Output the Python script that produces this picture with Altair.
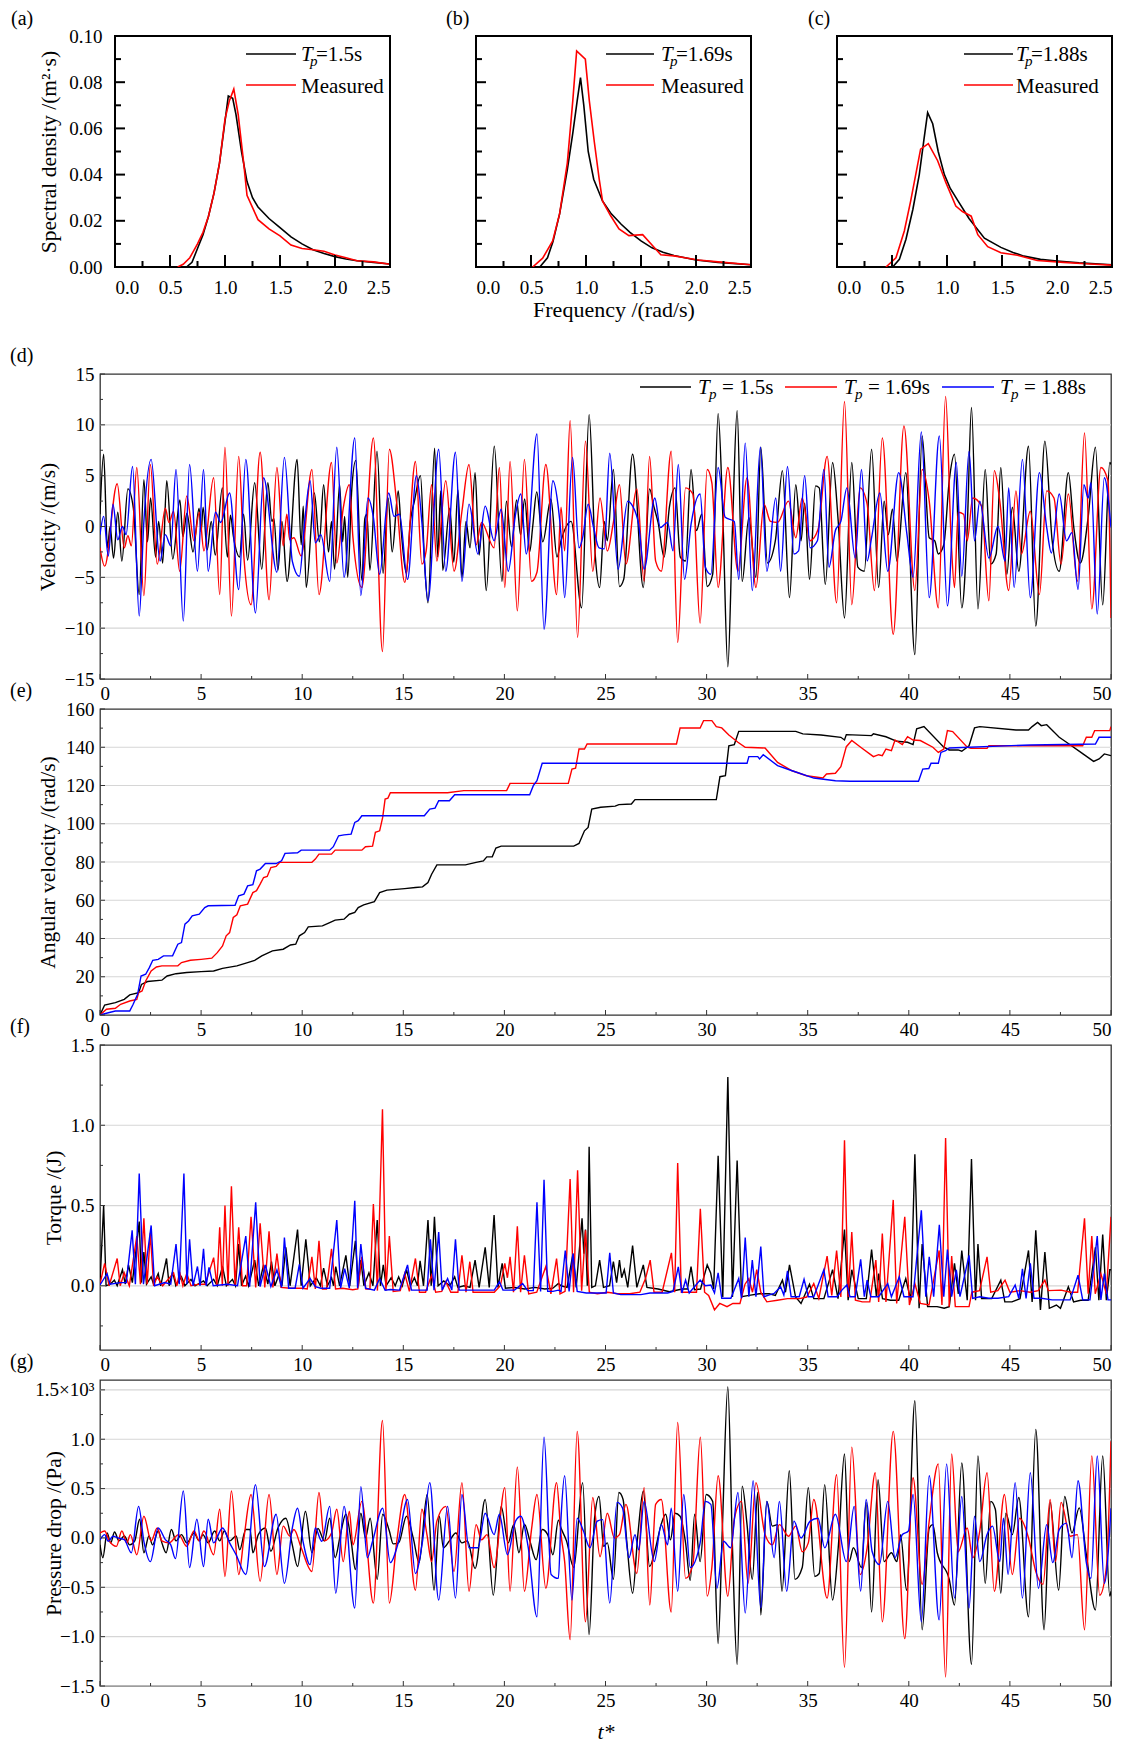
import altair as alt
import pandas as pd

FONT = "Liberation Serif"
C_BLACK = "#000000"
C_RED = "#ff0000"
C_BLUE = "#0000ff"
LABEL_SIZE = 19
TITLE_SIZE = 21.5

# ---------------- tick values ----------------
FREQ_TICKS = [0.0, 0.5, 1.0, 1.5, 2.0, 2.5]
FREQ_MINOR = [0.25, 0.75, 1.25, 1.75, 2.25]
SPEC_TICKS = [0.0, 0.02, 0.04, 0.06, 0.08, 0.10]
SPEC_MINOR = [0.01, 0.03, 0.05, 0.07, 0.09]
T_TICKS = [0, 5, 10, 15, 20, 25, 30, 35, 40, 45, 50]
T_MINOR = [2.5, 7.5, 12.5, 17.5, 22.5, 27.5, 32.5, 37.5, 42.5, 47.5]

VEL_TICKS = [-15, -10, -5, 0, 5, 10, 15]
VEL_MINOR = [-12.5, -7.5, -2.5, 2.5, 7.5, 12.5]
VEL_GRID = [-10, -5, 0, 5, 10]
ANG_TICKS = [0, 20, 40, 60, 80, 100, 120, 140, 160]
ANG_MINOR = [10, 30, 50, 70, 90, 110, 130, 150]
ANG_GRID = [20, 40, 60, 80, 100, 120, 140]
TOR_TICKS = [0.0, 0.5, 1.0, 1.5]
TOR_MINOR = [-0.25, 0.25, 0.75, 1.25]
TOR_GRID = [0.0, 0.5, 1.0]
PRE_TICKS = [-1.5, -1.0, -0.5, 0.0, 0.5, 1.0, 1.5]
PRE_MINOR = [-1.25, -0.75, -0.25, 0.25, 0.75, 1.25]
PRE_GRID = [-1.5, -1.0, -0.5, 0.0, 0.5, 1.0, 1.5]

# ---------------- spectra (frequency, density) ----------------
A_MODEL = [(0.65, 0), (0.7, 0.002), (0.75, 0.008), (0.8, 0.014), (0.85, 0.022), (0.9, 0.032),
           (0.95, 0.045), (1.0, 0.063), (1.03, 0.074), (1.07, 0.073), (1.1, 0.066), (1.15, 0.05),
           (1.2, 0.037), (1.25, 0.03), (1.3, 0.026), (1.4, 0.021), (1.5, 0.017), (1.6, 0.013),
           (1.7, 0.010), (1.8, 0.0075), (1.9, 0.0058), (2.0, 0.0045), (2.1, 0.0035), (2.2, 0.0027),
           (2.35, 0.002), (2.5, 0.0013)]
A_MEAS = [(0.57, 0), (0.62, 0.0012), (0.68, 0.004), (0.75, 0.01), (0.8, 0.015), (0.85, 0.022),
          (0.9, 0.032), (0.95, 0.045), (1.0, 0.064), (1.04, 0.072), (1.08, 0.077), (1.12, 0.066),
          (1.17, 0.045), (1.2, 0.031), (1.3, 0.0205), (1.4, 0.0165), (1.5, 0.0135), (1.6, 0.0095),
          (1.7, 0.008), (1.8, 0.0075), (1.9, 0.0068), (2.0, 0.0052), (2.1, 0.004), (2.2, 0.0027),
          (2.35, 0.0022), (2.5, 0.0012)]
B_MODEL = [(0.58, 0), (0.65, 0.004), (0.7, 0.011), (0.76, 0.023), (0.83, 0.042), (0.88, 0.058),
           (0.92, 0.072), (0.95, 0.082), (0.98, 0.07), (1.02, 0.05), (1.07, 0.038), (1.15, 0.0286),
           (1.23, 0.023), (1.32, 0.0185), (1.4, 0.015), (1.5, 0.0113), (1.6, 0.0083), (1.7, 0.0064),
           (1.8, 0.005), (1.9, 0.004), (2.0, 0.003), (2.2, 0.002), (2.5, 0.001)]
B_MEAS = [(0.515, 0), (0.606, 0.0038), (0.697, 0.0113), (0.76, 0.023), (0.83, 0.045), (0.88, 0.072),
          (0.915, 0.0935), (0.994, 0.090), (1.03, 0.072), (1.076, 0.054), (1.12, 0.038), (1.15, 0.0286),
          (1.22, 0.0225), (1.30, 0.0165), (1.39, 0.0136), (1.515, 0.014), (1.6, 0.0095), (1.68, 0.0053),
          (1.8, 0.0048), (1.9, 0.004), (2.02, 0.003), (2.2, 0.0022), (2.5, 0.001)]
C_MODEL = [(0.506, 0), (0.567, 0.0033), (0.627, 0.012), (0.69, 0.025), (0.748, 0.040), (0.79, 0.055),
           (0.824, 0.0668), (0.87, 0.062), (0.92, 0.050), (0.976, 0.040), (1.03, 0.034), (1.1, 0.0286),
           (1.2, 0.021), (1.34, 0.0125), (1.49, 0.0085), (1.6, 0.0063), (1.7, 0.0047), (1.85, 0.0033),
           (2.0, 0.0026), (2.2, 0.0018), (2.5, 0.001)]
C_MEAS = [(0.445, 0), (0.536, 0.004), (0.612, 0.0156), (0.67, 0.0286), (0.76, 0.051), (0.83, 0.0534),
          (0.915, 0.046), (0.99, 0.0365), (1.08, 0.0264), (1.14, 0.024), (1.22, 0.022), (1.28, 0.014),
          (1.37, 0.0088), (1.49, 0.0062), (1.64, 0.0051), (1.82, 0.0028), (2.06, 0.002), (2.3, 0.0013),
          (2.5, 0.0008)]

# ---------------- (d) velocity ----------------
D_15 = [(0, 1.2), (0.18, 7.1), (0.37, -2.1), (0.5, 0.0), (0.67, -3.1), (0.88, 1.4), (1.08, -3.4), (1.38, 3.7),
        (1.65, 1.8), (1.94, -6.7), (2.17, 4.6), (2.35, -1.5), (2.5, 2.8), (2.75, -3.0), (2.9, 0.5), (3.1, -3.6),
        (3.3, 4.5), (3.6, -3.2), (3.95, 2.6), (4.1, -1.0), (4.3, 1.3), (4.6, -2.5), (4.9, 1.8), (5.0, -0.5),
        (5.1, 1.9), (5.3, -2.3), (5.5, 0.5), (5.7, -2.8), (6.05, 3.8), (6.3, -3.0), (6.45, 1.1), (6.6, -1.0),
        (6.9, -3.0), (7.1, 1.2), (7.3, -3.3), (7.65, 4.3), (8.0, -4.2), (8.3, 4.3), (8.5, 0.5), (8.6, 0.8),
        (8.8, -4.3), (9.0, 0.5), (9.25, -5.4), (9.75, 6.6), (9.95, -1.8), (10.05, 2.0), (10.2, -6.0),
        (10.6, 3.3), (10.85, -1.5), (11.06, 4.1), (11.3, -2.5), (11.45, 0.5), (11.6, -4.2), (11.85, 4.1),
        (12.0, -1.5), (12.1, 1.0), (12.25, -5.0), (12.45, 3.6), (12.65, 6.5), (12.95, -5.3), (13.1, 0.8),
        (13.2, 1.2), (13.35, -4.3), (13.7, 7.4), (14.0, -4.6), (14.25, 2.8), (14.45, -2.5), (14.75, 3.5),
        (14.9, -0.5), (15.15, -4.6), (15.35, 0.5), (15.55, 2.5), (15.85, 5.0), (16.05, -3.5), (16.22, -7.5),
        (16.55, 7.7), (16.7, -3.0), (16.85, 3.5), (16.95, -4.3), (17.3, 1.8), (17.5, -3.5), (17.7, 3.6),
        (17.9, -5.0), (18.1, 0.5), (18.3, -2.1), (18.55, 5.3), (18.75, -2.8), (18.9, 0.3), (19.1, -6.3),
        (19.5, 7.9), (19.88, -5.4), (20.1, 2.5), (20.35, -2.0), (20.6, 2.6), (20.8, -0.8), (21.0, 2.7),
        (21.25, -2.5), (21.4, 0.0), (21.6, 3.4), (21.9, -1.5), (22.3, 2.7), (22.6, -3.0), (22.8, -1.4),
        (23.3, 0.5), (23.82, -8.0), (24.19, 11.0), (24.5, -3.0), (24.71, -6.0), (24.94, 0.5), (25.09, -1.4),
        (25.39, 5.6), (25.69, -5.9), (25.9, -5.2), (26.34, 7.1), (26.87, -6.0), (27.18, 3.7), (27.4, 1.9),
        (27.6, 0.4), (27.9, -3.0), (28.16, 1.9), (28.44, 3.8), (28.7, -3.0), (28.96, -3.4), (29.23, 5.6),
        (29.5, -0.4), (29.76, 1.2), (30.03, -5.9), (30.3, -4.7), (30.57, 11.1), (30.8, 1.2), (31.05, -13.8),
        (31.28, -0.1), (31.51, 11.4), (31.76, -5.4), (32.09, 0.9), (32.44, -5.0), (32.68, 7.8), (33.01, -3.6),
        (33.4, -1.4), (33.75, 5.5), (34.1, -7.0), (34.41, 4.1), (34.67, -1.4), (34.85, 2.3), (35.09, -5.2),
        (35.39, 4.0), (35.57, 3.8), (35.87, -5.7), (36.23, 6.3), (36.51, 0.5), (36.82, -9.0), (37.18, 6.3),
        (37.48, -4.0), (37.8, -4.4), (38.16, 7.6), (38.51, -6.0), (38.78, 2.5), (38.99, -0.8), (39.19, 1.7),
        (39.41, -3.4), (39.85, 5.3), (40.3, -12.6), (40.66, 8.9), (41.01, -1.1), (41.28, -1.4), (41.46, -2.7),
        (41.73, -1.8), (42.0, 4.5), (42.26, 7.1), (42.62, -8.0), (42.89, -0.1), (43.1, 11.7), (43.42, -8.1),
        (43.78, 5.6), (44.05, -3.7), (44.32, -2.7), (44.55, 5.8), (44.85, -4.7), (45.12, 1.9), (45.44, -4.4),
        (45.92, 7.9), (46.28, -9.8), (46.73, 8.4), (47.09, -1.4), (47.44, -4.4), (47.89, 5.3), (48.16, -0.1),
        (48.48, -3.6), (48.87, 0.9), (49.23, 7.8), (49.59, -7.7), (49.94, 6.3), (50, 6.1)]
D_169 = [(0, -2.1), (0.23, -3.9), (0.85, 4.2), (1.2, -2.1), (1.38, -0.9), (1.55, -1.9), (1.82, 5.8), (2.17, -6.8),
         (2.49, 6.1), (2.83, -3.7), (3.23, 1.8), (3.41, 0.4), (3.64, 1.5), (3.94, -4.4), (4.29, 3.0), (4.65, -1.4),
         (4.91, 1.4), (5.14, -2.4), (5.62, 4.8), (5.92, -6.7), (6.18, 7.8), (6.5, -8.8), (6.86, 6.9), (7.12, -3.1),
         (7.47, -7.7), (7.92, 7.3), (8.36, -7.2), (8.75, 5.8), (9.06, -1.9), (9.24, 1.2), (9.38, -1.3), (9.59, -1.1),
         (9.95, -2.9), (10.48, 5.6), (10.83, -6.7), (11.45, 6.3), (11.71, -3.6), (12.03, 1.8), (12.33, 4.1),
         (12.51, -1.1), (12.95, -6.0), (13.52, 8.7), (13.97, -12.3), (14.31, 7.6), (14.68, 2.2), (15.07, -5.5),
         (15.6, 6.4), (15.92, -3.7), (16.13, -2.4), (16.4, 4.1), (16.66, -3.4), (17.1, 4.5), (17.51, -4.4),
         (17.9, 1.5), (18.25, 6.1), (18.6, -1.8), (18.87, 0.4), (19.49, -2.1), (19.75, 5.8), (20.02, -6.0),
         (20.28, 6.4), (20.64, -8.3), (20.99, 6.6), (21.34, -5.4), (21.61, -4.5), (22.05, 6.1), (22.58, -6.7),
         (22.8, 1.9), (22.98, -2.4), (23.25, 10.4), (23.62, -10.9), (24.01, 8.4), (24.37, -4.4), (24.73, 2.8),
         (25.09, -2.4), (25.39, 0.4), (25.69, 4.1), (26.01, -3.7), (26.55, 3.7), (26.91, -5.4), (27.18, 6.9),
         (27.48, -3.4), (27.76, -4.4), (28.25, 7.4), (28.57, -11.4), (28.96, 3.8), (29.32, 3.2), (29.68, -9.5),
         (30.03, 5.6), (30.26, 4.3), (30.57, -6.0), (31.05, 5.8), (31.55, -4.4), (32.0, 4.8), (32.44, -6.0),
         (32.84, 2.2), (33.16, 0.5), (33.51, 0.4), (34.05, 2.5), (34.41, -1.1), (34.73, 2.8), (35.12, -1.4),
         (35.51, -0.3), (35.96, 6.9), (36.43, -7.5), (36.82, 12.3), (37.18, -7.7), (37.59, 3.8), (37.94, 2.2),
         (38.3, -6.3), (38.69, 8.7), (39.23, -10.6), (39.76, 9.9), (40.3, -6.3), (40.66, 5.6), (41.01, 2.5),
         (41.46, -8.0), (41.82, 12.8), (42.09, -1.1), (42.26, -6.0), (42.44, 1.4), (42.71, 1.2), (42.89, -1.4),
         (43.16, 2.8), (43.6, 2.0), (43.96, -7.3), (44.23, 5.5), (44.5, 2.5), (44.94, -6.3), (45.3, 3.5),
         (45.57, -2.7), (46.01, 1.5), (46.46, -6.7), (46.82, 3.5), (47.18, 2.8), (47.53, -3.7), (47.89, 3.2),
         (48.34, -5.4), (48.69, 9.2), (49.05, -8.1), (49.5, 5.8), (49.85, 4.5), (50, -9.0)]
D_188 = [(0, -0.8), (0.18, 1.0), (0.41, -2.9), (0.64, 2.2), (0.88, -1.3), (1.11, 0.0), (1.29, -0.8), (1.61, 5.9),
         (1.94, -8.8), (2.17, 0.5), (2.53, 6.6), (2.97, -3.4), (3.23, -0.8), (3.5, -1.9), (3.76, 5.6), (4.12, -9.3),
         (4.43, 6.1), (4.82, -4.4), (5.12, 5.6), (5.35, -4.4), (5.71, 1.4), (5.97, 0.4), (6.41, 3.3), (6.86, -6.2),
         (7.21, 6.6), (7.69, -8.5), (8.09, 4.8), (8.75, -4.5), (9.12, 6.8), (9.51, -3.4), (9.86, -4.9), (10.12, 0.4),
         (10.39, 4.5), (10.65, -1.6), (10.92, -0.8), (11.36, -5.4), (11.71, 7.8), (12.07, -5.0), (12.6, 8.7),
         (12.9, -6.8), (13.25, 2.8), (13.52, 0.9), (13.83, -4.7), (14.28, 3.3), (14.54, 1.0), (14.81, 1.2),
         (15.21, -5.2), (15.65, 5.0), (15.92, 0.4), (16.22, -7.3), (16.75, 7.6), (17.1, -4.4), (17.58, 7.3),
         (17.9, -5.4), (18.25, 2.2), (18.69, -2.7), (19.05, 2.0), (19.49, -1.4), (19.84, 1.7), (20.19, -4.4),
         (20.55, 1.2), (20.81, 3.2), (21.08, -2.7), (21.61, 9.1), (21.96, -10.1), (22.4, 4.5), (22.67, 1.8),
         (22.8, -0.8), (22.98, -7.0), (23.37, 6.8), (23.69, -2.1), (23.87, -1.1), (24.14, 2.2), (24.41, -0.1),
         (24.68, -2.1), (24.94, -2.2), (25.21, 7.2), (25.62, -4.2), (26.1, 2.5), (26.28, 2.2), (26.64, 0.2),
         (26.91, -4.2), (27.44, 2.8), (27.71, -0.1), (28.07, 0.4), (28.34, -2.4), (28.6, 6.1), (28.91, -5.2),
         (29.23, 0.2), (29.68, 3.2), (29.94, -4.0), (30.21, -4.7), (30.57, 5.8), (30.92, 0.9), (31.37, 0.5),
         (31.59, -5.2), (31.91, 8.2), (32.26, -6.3), (32.66, 7.8), (32.98, -4.4), (33.42, 2.8), (33.66, -4.4),
         (34.0, 5.9), (34.32, -2.7), (34.55, -2.4), (34.85, 5.0), (35.12, -2.1), (35.48, -1.4), (35.8, 5.6),
         (36.05, -4.0), (36.37, -0.4), (36.64, 0.5), (36.94, 3.8), (37.35, -3.1), (37.66, 5.6), (37.94, -3.4),
         (38.16, -1.1), (38.57, 3.3), (38.96, -4.4), (39.5, 5.3), (39.91, -0.8), (40.21, -5.0), (40.62, 9.3),
         (41.01, -7.0), (41.51, 8.9), (41.91, -7.8), (42.35, 6.3), (42.62, -4.9), (42.98, 7.4), (43.25, -1.4),
         (43.51, 2.5), (43.96, -3.1), (44.41, 0.0), (44.76, -3.4), (44.94, 3.8), (45.21, -6.0), (45.62, 6.6),
         (46.01, -7.0), (46.46, 5.3), (46.82, -0.1), (47.05, -2.6), (47.44, 3.2), (47.8, -1.4), (48.07, -0.6),
         (48.37, -6.2), (48.66, 4.1), (48.87, 2.8), (49.01, 4.3), (49.32, -8.6), (49.67, 4.8), (50, -0.1)]

# ---------------- (e) angular velocity ----------------
E_15 = [(0, 0), (0.23, 5.2), (0.76, 6.5), (1.2, 8.2), (1.47, 10.5), (1.91, 11.7), (2.05, 16), (2.35, 17.5),
        (3.06, 18.2), (3.32, 20.4), (3.76, 21.6), (4.29, 22.2), (5.0, 22.7), (5.62, 23.0), (6.06, 24.4),
        (6.77, 25.7), (7.3, 27.4), (7.65, 28.6), (8.0, 30.9), (8.53, 33.5), (9.06, 34.4), (9.42, 36.6),
        (9.68, 37), (9.86, 41.4), (10.12, 43.1), (10.3, 46.1), (11.0, 46.6), (11.36, 48.3), (11.63, 49.6),
        (12.07, 50.1), (12.33, 52.7), (12.6, 53.6), (12.77, 56.2), (13.04, 57.6), (13.57, 59.3), (13.83, 64.0),
        (14.19, 65.3), (15.07, 66.1), (15.6, 66.7), (15.95, 67), (16.22, 69.3), (16.4, 73.6), (16.66, 78.5),
        (18.07, 78.5), (18.6, 79.8), (18.96, 80.6), (19.13, 82.7), (19.4, 82.7), (19.58, 87.3), (19.84, 88.3),
        (23.43, 88.3), (23.69, 89.7), (23.96, 96.3), (24.14, 98.1), (24.32, 107.7), (24.76, 108.6),
        (25.48, 109.2), (25.66, 110), (26.28, 110.3), (26.46, 112.6), (30.48, 112.6), (30.66, 124.6),
        (30.93, 125.1), (31.1, 140.8), (31.37, 141.4), (31.59, 148.3), (34.41, 148.3), (34.76, 147),
        (35.66, 146.4), (36.64, 145.2), (36.82, 143.8), (36.91, 146.6), (38.16, 146.1), (38.25, 147),
        (38.87, 145.5), (39.41, 143.1), (39.94, 142.6), (40.21, 141.4), (40.39, 149.6), (40.75, 150.8),
        (41.73, 140), (42.0, 138.6), (42.44, 138.6), (42.62, 137.9), (42.98, 140.8), (43.25, 150.1),
        (43.51, 150.8), (45.3, 149), (45.92, 149), (46.1, 150.8), (46.37, 153), (46.55, 151.3), (46.82, 151.8),
        (47.44, 145.2), (47.8, 142.6), (48.51, 137.3), (49.14, 132.6), (49.41, 133.9), (49.67, 136.5),
        (50, 135.6)]
E_169 = [(0, 0), (0.32, 3), (0.76, 3.5), (1.02, 5.6), (1.47, 7.3), (1.82, 8.2), (1.91, 11.7), (2.08, 12.6),
         (2.26, 17.8), (2.53, 23), (2.79, 25.1), (3.06, 25.7), (3.85, 25.7), (4.03, 27.4), (4.47, 28.6),
         (5.0, 29.1), (5.53, 29.7), (5.8, 32.6), (6.06, 36.1), (6.24, 41.4), (6.41, 43.1), (6.59, 51),
         (6.77, 52.4), (6.94, 57.1), (7.3, 58), (7.56, 64), (7.74, 65), (7.92, 68.4), (8.09, 71.9), (8.27, 72.4),
         (8.45, 77.1), (8.71, 77.7), (8.89, 79.8), (10.48, 79.8), (10.65, 81.5), (10.83, 84.1), (11.45, 84.1),
         (11.63, 86.2), (12.95, 86.2), (13.13, 88), (13.48, 88.3), (13.62, 95.5), (13.83, 96.3), (13.98, 103.3),
         (14.1, 112.9), (14.24, 113.4), (14.36, 116.2), (17.19, 116.2), (17.99, 117.3), (20.11, 117.3),
         (20.28, 121.1), (23.16, 121.1), (23.34, 128.6), (23.52, 129), (23.69, 139.1), (23.96, 139.1),
         (24.09, 141.7), (28.51, 141.7), (28.69, 150.1), (29.68, 150.1), (29.85, 153.9), (30.26, 153.9),
         (30.48, 150.8), (30.75, 150.1), (31.1, 146.4), (31.55, 142.6), (31.91, 140), (32.89, 139.6),
         (33.51, 132.1), (34.23, 127.7), (34.94, 125.1), (35.75, 123.9), (35.93, 126), (36.37, 126.4),
         (36.64, 129.8), (36.91, 140.3), (37.18, 143.5), (37.62, 140), (38.25, 135.1), (38.51, 136.1),
         (38.69, 135.6), (38.87, 139.1), (39.14, 138.2), (39.32, 143.8), (39.68, 141.4), (39.94, 145.5),
         (40.21, 143.8), (40.57, 143.5), (41.19, 140), (41.46, 137.3), (41.73, 139.1), (41.91, 148.7),
         (42.17, 148.2), (42.89, 140), (43.07, 139.4), (43.87, 139.4), (43.96, 140.8), (48.6, 140.8),
         (48.78, 145.2), (49.05, 145.2), (49.19, 148.7), (49.94, 148.7), (50, 150.8)]
E_188 = [(0, 0), (0.41, 1.2), (0.76, 2.1), (1.47, 2.1), (1.64, 5.6), (1.86, 10.8), (2.03, 20.4), (2.26, 21.3),
         (2.44, 24.8), (2.61, 28.6), (2.88, 29.1), (3.14, 30.9), (3.59, 30.9), (3.85, 37), (4.03, 37.9),
         (4.2, 47.5), (4.38, 49.2), (4.56, 51.8), (4.91, 52.7), (5.18, 56.2), (5.35, 57.1), (6.68, 57.4),
         (6.86, 62.3), (7.12, 63.2), (7.3, 67.5), (7.56, 68.1), (7.74, 75.4), (7.92, 76.3), (8.18, 79.2),
         (8.71, 79.2), (8.98, 80.6), (9.15, 84.5), (9.77, 84.8), (9.95, 86.2), (11.36, 86.2), (11.54, 88),
         (11.8, 93.7), (12.07, 94.2), (12.42, 94.6), (12.6, 100.7), (12.77, 101.6), (12.95, 104.2),
         (16.04, 104.2), (16.31, 107.7), (16.57, 108.2), (16.75, 112), (17.28, 112), (17.54, 115.2),
         (21.25, 115.2), (21.43, 119.9), (21.61, 122.5), (21.87, 131.6), (32.0, 131.6), (32.09, 135.1),
         (32.53, 135.1), (32.62, 133.9), (32.8, 136.1), (33.51, 130.4), (34.23, 127.7), (35.3, 123.9),
         (36.37, 122.5), (37.09, 122.2), (40.48, 122.2), (40.69, 128.6), (40.99, 128.9), (41.1, 131.6),
         (41.46, 131.6), (41.59, 137.3), (41.82, 138.2), (42.0, 139.6), (46.01, 141.2), (49.23, 141.7),
         (49.41, 145.2), (50, 145.2)]

# ---------------- (f) torque ----------------
F_15 = [(0, 0.02), (0.18, 0.50), (0.3, 0.0), (0.5, 0.01), (0.71, 0.035), (0.85, 0.0), (1.11, 0.10), (1.25, 0.01),
        (1.41, 0.13), (1.6, 0.02), (1.94, 0.40), (2.05, 0.02), (2.17, 0.21), (2.3, 0.01), (2.53, 0.056),
        (2.65, 0.01), (2.88, 0.076), (3.0, 0.0), (3.29, 0.17), (3.42, 0.0), (3.59, 0.087), (3.75, 0.0),
        (4.03, 0.056), (4.2, 0.0), (4.5, 0.04), (4.7, 0.0), (5.12, 0.03), (5.3, 0.0), (5.62, 0.04), (5.8, 0.0),
        (6.06, 0.12), (6.25, 0.0), (6.55, 0.04), (6.7, 0.0), (6.86, 0.26), (7.0, 0.0), (7.2, 0.06), (7.35, 0.0),
        (7.65, 0.16), (7.85, 0.0), (8.09, 0.13), (8.3, 0.01), (8.48, 0.15), (8.65, 0.0), (8.85, 0.07), (9.0, 0.0),
        (9.19, 0.24), (9.4, 0.0), (9.77, 0.35), (9.95, 0.0), (10.18, 0.29), (10.4, 0.0), (10.7, 0.05),
        (10.9, 0.0), (11.06, 0.11), (11.25, 0.0), (11.45, 0.05), (11.55, 0.0), (11.66, 0.12), (11.85, 0.0),
        (12.16, 0.19), (12.35, 0.0), (12.63, 0.28), (12.78, 0.0), (12.9, 0.16), (13.05, 0.0), (13.3, 0.08),
        (13.5, 0.0), (13.71, 0.41), (13.87, 0.0), (14.01, 0.13), (14.15, 0.0), (14.4, 0.05), (14.6, 0.0),
        (14.77, 0.056), (14.95, 0.0), (15.16, 0.10), (15.35, 0.0), (15.55, 0.05), (15.7, 0.0), (15.83, 0.155),
        (16.0, 0.0), (16.22, 0.41), (16.38, 0.0), (16.54, 0.43), (16.72, 0.0), (17.0, 0.03), (17.3, 0.0),
        (17.54, 0.056), (17.7, -0.01), (18.0, 0.0), (18.3, -0.01), (18.55, 0.16), (18.75, -0.01), (19.05, 0.24),
        (19.25, -0.01), (19.49, 0.44), (19.68, -0.01), (19.89, 0.14), (20.05, -0.015), (20.5, -0.01),
        (21.0, -0.02), (21.5, -0.01), (22.0, -0.02), (22.4, -0.015), (22.67, 0.015), (22.8, 0.0), (23.1, -0.01),
        (23.39, 0.2), (23.55, -0.01), (23.84, 0.42), (23.93, 0.2), (24.01, 0.35), (24.1, 0.0), (24.19, 0.866),
        (24.32, -0.01), (24.5, 0.0), (24.71, 0.16), (24.9, -0.01), (25.2, 0.0), (25.39, 0.15), (25.55, 0.02),
        (25.69, 0.16), (25.8, 0.05), (25.93, 0.10), (26.1, -0.01), (26.34, 0.25), (26.55, -0.01), (26.87, 0.13),
        (27.05, -0.01), (27.6, -0.02), (28.16, -0.037), (28.8, -0.02), (29.05, -0.02), (29.23, 0.12),
        (29.4, -0.025), (29.7, -0.02), (30.03, 0.13), (30.2, 0.08), (30.35, -0.02), (30.57, 0.81), (30.8, -0.07),
        (31.05, 1.30), (31.28, -0.07), (31.51, 0.78), (31.73, -0.068), (32.1, -0.06), (32.6, -0.05),
        (33.1, -0.05), (33.4, -0.06), (33.75, 0.035), (33.9, -0.04), (34.1, 0.13), (34.4, -0.07), (34.67, -0.11),
        (35.09, 0.01), (35.3, -0.08), (35.8, -0.08), (36.23, 0.10), (36.5, -0.08), (36.82, 0.35), (37.0, -0.09),
        (37.18, 0.10), (37.5, -0.08), (37.9, -0.08), (38.16, 0.225), (38.4, -0.07), (38.51, 0.076),
        (38.7, -0.08), (39.1, -0.09), (39.5, -0.09), (39.85, 0.045), (40.1, -0.09), (40.3, 0.82), (40.51, -0.14),
        (40.66, 0.26), (40.93, -0.13), (41.4, -0.13), (41.75, -0.14), (42.0, -0.13), (42.26, 0.14),
        (42.45, -0.05), (42.62, 0.22), (42.89, -0.09), (43.1, 0.79), (43.3, -0.09), (43.42, 0.26), (43.6, -0.08),
        (44.1, -0.08), (44.55, 0.035), (44.75, -0.10), (45.1, -0.10), (45.5, -0.08), (45.92, 0.22),
        (46.1, -0.10), (46.28, 0.345), (46.51, -0.15), (46.73, 0.21), (46.95, -0.14), (47.3, -0.12),
        (47.5, -0.14), (47.89, -0.006), (48.15, -0.10), (48.5, -0.09), (48.87, -0.09), (49.23, 0.24),
        (49.4, -0.09), (49.59, 0.32), (49.77, -0.09), (49.94, 0.10), (50, 0.10)]
F_169 = [(0, 0.01), (0.23, 0.14), (0.45, 0.0), (0.85, 0.17), (1.0, 0.0), (1.2, 0.08), (1.45, 0.0), (1.82, 0.31),
         (2.0, 0.01), (2.17, 0.42), (2.33, 0.01), (2.49, 0.33), (2.65, 0.0), (2.83, 0.056), (3.1, 0.0),
         (3.64, 0.08), (3.8, 0.0), (3.94, 0.087), (4.1, 0.0), (4.29, 0.076), (4.5, 0.0), (4.9, 0.01), (5.2, 0.01),
         (5.62, 0.175), (5.78, 0.0), (5.92, 0.365), (6.05, 0.0), (6.18, 0.50), (6.33, 0.0), (6.5, 0.62),
         (6.68, 0.0), (6.86, 0.365), (7.05, 0.0), (7.25, 0.0), (7.47, 0.43), (7.7, -0.01), (7.92, 0.39),
         (8.15, -0.01), (8.36, 0.34), (8.55, -0.01), (8.75, 0.20), (8.95, -0.01), (9.4, -0.015), (10.0, -0.015),
         (10.25, -0.02), (10.48, 0.18), (10.65, -0.02), (10.83, 0.28), (11.0, -0.02), (11.2, -0.02),
         (11.45, 0.23), (11.65, -0.02), (12.0, -0.015), (12.5, -0.025), (12.75, -0.02), (12.95, 0.18),
         (13.15, -0.02), (13.35, -0.02), (13.52, 0.51), (13.72, -0.03), (13.97, 1.10), (14.14, -0.03),
         (14.31, 0.31), (14.5, -0.035), (14.85, -0.03), (15.07, 0.076), (15.3, -0.035), (15.6, 0.17),
         (15.8, -0.04), (16.1, -0.04), (16.4, 0.066), (16.6, -0.04), (16.9, -0.035), (17.1, 0.025),
         (17.35, -0.04), (17.7, -0.04), (17.9, 0.19), (18.1, -0.04), (18.29, 0.15), (18.45, -0.04),
         (19.0, -0.04), (19.5, -0.04), (19.8, 0.0), (20.02, 0.14), (20.15, 0.05), (20.28, 0.18), (20.45, -0.04),
         (20.64, 0.37), (20.8, -0.04), (20.99, 0.19), (21.2, -0.05), (21.6, -0.04), (22.05, 0.12), (22.3, -0.05),
         (22.58, 0.17), (22.75, -0.05), (23.0, -0.035), (23.25, 0.665), (23.42, -0.04), (23.62, 0.72),
         (23.82, -0.03), (24.01, 0.345), (24.2, -0.04), (24.6, -0.05), (25.1, -0.04), (25.6, -0.05),
         (26.2, -0.05), (26.7, -0.04), (26.98, 0.045), (27.21, 0.16), (27.4, -0.04), (27.8, -0.04),
         (28.26, 0.205), (28.42, -0.04), (28.57, 0.765), (28.75, -0.04), (29.2, -0.04), (29.5, -0.04),
         (29.69, 0.48), (29.9, -0.04), (30.1, -0.06), (30.39, -0.15), (30.65, -0.11), (31.01, -0.13),
         (31.3, -0.11), (31.65, -0.11), (31.9, 0.01), (32.09, 0.045), (32.27, -0.04), (32.48, 0.10),
         (32.68, -0.04), (32.98, -0.1), (33.5, -0.09), (34.0, -0.08), (34.6, -0.08), (34.95, -0.07),
         (35.3, 0.014), (35.55, -0.08), (35.96, 0.185), (36.19, -0.06), (36.43, 0.22), (36.64, -0.07),
         (36.82, 0.907), (37.0, -0.07), (37.18, 0.335), (37.36, -0.09), (37.7, -0.10), (38.07, -0.10),
         (38.37, 0.16), (38.51, -0.10), (38.69, 0.325), (38.87, -0.10), (39.23, 0.535), (39.4, -0.11),
         (39.8, 0.43), (40.03, -0.12), (40.3, 0.014), (40.57, -0.11), (41.0, -0.12), (41.5, 0.22),
         (41.64, -0.12), (41.82, 0.92), (42.0, -0.13), (42.12, 0.185), (42.3, -0.13), (42.62, -0.13),
         (42.98, -0.13), (43.12, -0.04), (43.5, -0.03), (43.87, 0.18), (44.05, -0.04), (44.4, -0.03),
         (44.76, 0.035), (45.0, -0.04), (45.5, -0.03), (46.0, -0.04), (46.4, -0.03), (46.73, 0.035),
         (46.9, -0.03), (47.53, -0.027), (48.0, -0.04), (48.35, -0.04), (48.69, 0.42), (48.87, -0.05),
         (49.05, 0.31), (49.22, -0.05), (49.5, 0.076), (49.77, -0.05), (50, 0.43)]
F_188 = [(0, 0.005), (0.35, 0.076), (0.5, 0.01), (1.0, 0.02), (1.3, 0.02), (1.59, 0.345), (1.75, 0.01),
         (1.94, 0.70), (2.15, 0.01), (2.53, 0.376), (2.7, 0.0), (3.2, 0.02), (3.5, 0.01), (3.76, 0.26),
         (3.92, 0.01), (4.15, 0.70), (4.3, 0.01), (4.43, 0.29), (4.6, 0.0), (4.82, 0.12), (4.95, 0.0),
         (5.12, 0.23), (5.25, 0.0), (5.39, 0.115), (5.6, 0.0), (6.3, 0.01), (6.8, 0.0), (7.21, 0.31),
         (7.4, -0.005), (7.7, 0.52), (7.92, -0.005), (8.18, 0.13), (8.45, -0.005), (8.75, 0.10), (8.98, -0.01),
         (9.12, 0.30), (9.33, -0.015), (9.65, -0.015), (9.86, 0.134), (10.04, -0.015), (10.39, 0.045),
         (10.65, -0.005), (10.92, -0.015), (11.36, -0.015), (11.71, 0.41), (11.9, -0.015), (12.1, 0.107),
         (12.33, -0.015), (12.6, 0.53), (12.74, -0.015), (12.9, 0.26), (13.13, -0.015), (13.57, -0.027),
         (13.83, 0.045), (14.1, -0.027), (14.36, -0.023), (14.81, -0.027), (15.21, 0.13), (15.4, -0.027),
         (15.83, -0.027), (16.18, -0.027), (16.34, 0.29), (16.52, -0.027), (16.75, 0.335), (16.92, -0.027),
         (17.19, 0.045), (17.4, -0.027), (17.58, 0.29), (17.76, -0.027), (18.1, -0.027), (18.8, -0.027),
         (19.5, -0.027), (19.75, 0.025), (19.93, -0.027), (20.5, -0.027), (20.9, 0.014), (21.15, -0.03),
         (21.43, -0.03), (21.61, 0.52), (21.79, -0.035), (21.96, 0.66), (22.14, -0.035), (22.4, -0.035),
         (22.67, -0.027), (22.8, -0.035), (23.01, 0.22), (23.2, -0.035), (23.39, 0.2), (23.6, -0.035),
         (24.05, -0.045), (24.6, -0.045), (25.03, -0.045), (25.21, 0.205), (25.39, -0.045), (25.75, -0.055),
         (26.3, -0.055), (26.75, -0.055), (27.2, -0.045), (27.65, -0.045), (28.07, -0.045), (28.34, -0.035),
         (28.6, 0.118), (28.78, -0.045), (28.96, 0.035), (29.14, -0.045), (29.68, 0.035), (29.94, 0.0),
         (30.21, 0.005), (30.39, -0.045), (30.57, 0.08), (30.75, -0.078), (31.2, -0.078), (31.59, 0.045),
         (31.73, -0.078), (31.91, 0.30), (32.09, -0.068), (32.26, 0.16), (32.44, -0.068), (32.68, 0.245),
         (32.84, -0.068), (33.07, -0.058), (33.34, -0.048), (33.66, -0.006), (33.82, -0.058), (34.0, 0.093),
         (34.18, -0.068), (34.58, -0.068), (34.82, 0.04), (35.03, -0.068), (35.3, -0.068), (35.8, 0.1),
         (36.01, -0.068), (36.46, -0.068), (36.69, -0.027), (36.94, 0.005), (37.09, -0.068), (37.35, -0.068),
         (37.62, 0.165), (37.8, -0.068), (37.94, 0.035), (38.12, -0.068), (38.51, -0.068), (38.96, 0.014),
         (39.14, -0.068), (39.53, 0.056), (39.76, -0.068), (40.21, -0.068), (40.62, 0.47), (40.84, -0.068),
         (41.01, 0.18), (41.23, -0.068), (41.51, 0.38), (41.73, -0.068), (41.91, 0.225), (42.12, -0.068),
         (42.35, 0.1), (42.53, -0.068), (42.98, 0.19), (43.16, -0.078), (43.51, -0.068), (43.96, -0.078),
         (44.41, -0.078), (44.94, -0.068), (45.26, 0.005), (45.44, -0.078), (45.62, 0.105), (45.8, -0.078),
         (46.01, 0.14), (46.19, -0.078), (46.55, -0.078), (47.09, -0.088), (47.53, -0.088), (47.98, -0.088),
         (48.37, 0.066), (48.6, -0.088), (48.96, -0.088), (49.32, 0.31), (49.5, -0.088), (49.67, 0.076),
         (49.85, -0.088), (50, -0.088)]

# ---------------- (g) pressure drop (x10^3 Pa) ----------------
G_15 = [(0, -0.07), (0.14, -0.2), (0.35, 0.05), (0.53, -0.05), (0.72, 0.06), (0.94, -0.03), (1.2, 0.02),
        (1.47, -0.07), (1.72, -0.03), (1.96, 0.19), (2.17, -0.15), (2.42, 0.02), (2.6, -0.07), (2.88, 0.07),
        (3.06, -0.05), (3.27, -0.15), (3.53, 0.085), (3.76, -0.03), (4.03, 0.034), (4.29, -0.05), (4.65, 0.05),
        (4.91, -0.03), (5.09, 0.034), (5.35, -0.05), (5.67, 0.07), (5.92, -0.03), (6.15, 0.07), (6.41, -0.03),
        (6.73, 0.02), (6.91, -0.12), (7.21, 0.085), (7.42, 0.085), (7.56, -0.15), (7.83, 0.034), (8.18, 0.1),
        (8.45, -0.135), (8.8, 0.1), (9.19, 0.2), (9.51, -0.07), (9.77, -0.29), (10.16, 0.27), (10.48, -0.15),
        (10.78, 0.095), (11.1, -0.03), (11.36, 0.2), (11.63, -0.2), (11.89, 0.034), (12.16, 0.24),
        (12.42, -0.03), (12.63, -0.32), (12.9, 0.25), (13.13, 0.0), (13.36, 0.2), (13.71, -0.42), (13.98, 0.24),
        (14.31, 0.07), (14.5, -0.06), (14.77, -0.05), (15.16, 0.22), (15.49, 0.0), (15.78, -0.25),
        (16.18, 0.44), (16.52, -0.53), (16.78, 0.22), (16.98, -0.1), (17.28, -0.03), (17.6, 0.05),
        (17.9, -0.05), (18.17, -0.03), (18.55, -0.31), (19.05, 0.39), (19.45, -0.58), (19.84, 0.32),
        (20.19, -0.05), (20.46, 0.135), (20.72, -0.15), (20.99, 0.14), (21.26, -0.03), (21.57, -0.22),
        (21.87, 0.085), (22.14, 0.034), (22.4, -0.17), (22.67, 0.18), (22.8, 0.1), (23.07, -0.03),
        (23.43, -0.3), (23.87, 0.56), (24.19, -0.98), (24.46, 0.2), (24.68, 0.42), (24.91, -0.085),
        (25.09, -0.05), (25.39, -0.42), (25.66, 0.46), (25.87, 0.39), (26.05, -0.03), (26.34, -0.56),
        (26.6, 0.034), (26.87, 0.475), (27.18, -0.29), (27.48, -0.1), (27.75, 0.135), (27.98, 0.24),
        (28.21, -0.02), (28.44, 0.25), (28.69, 0.22), (28.96, -0.05), (29.19, -0.43), (29.41, 0.24),
        (29.68, -0.24), (29.98, 0.44), (30.3, 0.37), (30.57, -1.07), (30.78, 0.1), (31.05, 1.53), (31.28, -0.1),
        (31.51, -1.28), (31.76, 0.525), (32.0, 0.135), (32.26, -0.42), (32.53, 0.46), (32.68, -0.78),
        (32.98, 0.37), (33.25, 0.12), (33.51, 0.135), (33.73, -0.54), (34.09, 0.68), (34.37, -0.42),
        (34.73, -0.3), (35.03, 0.51), (35.35, -0.39), (35.57, -0.36), (35.84, 0.54), (36.23, -0.63),
        (36.51, -0.1), (36.82, 0.85), (37.05, -0.24), (37.26, -0.1), (37.66, -0.3), (37.89, 0.36),
        (38.16, -0.75), (38.48, 0.59), (38.78, -0.24), (39.14, -0.15), (39.41, -0.24), (39.59, 0.034),
        (39.89, -0.53), (40.3, 1.39), (40.66, -0.93), (41.01, 0.1), (41.19, 0.135), (41.41, -0.15),
        (42.0, -0.42), (42.26, -0.68), (42.62, 0.76), (43.1, -1.28), (43.42, 0.83), (43.78, -0.46),
        (44.05, 0.37), (44.28, 0.29), (44.55, -0.56), (44.8, 0.25), (45.12, 0.034), (45.44, 0.41),
        (45.92, -0.8), (46.28, 1.1), (46.69, -0.93), (46.99, 0.36), (47.41, -0.53), (47.71, 0.42),
        (48.07, 0.05), (48.43, 0.305), (48.78, -0.17), (49.23, -0.73), (49.59, 0.83), (49.94, -0.59),
        (50, -0.54)]
G_169 = [(0, 0.05), (0.23, 0.07), (0.46, -0.03), (0.81, -0.085), (1.08, 0.07), (1.33, -0.05), (1.5, 0.034),
         (1.82, -0.17), (2.17, 0.22), (2.53, -0.03), (2.83, 0.1), (3.06, -0.03), (3.41, -0.05), (3.89, 0.034),
         (4.29, -0.085), (4.65, 0.07), (4.91, -0.03), (5.14, 0.07), (5.62, -0.17), (5.92, 0.29), (6.18, -0.39),
         (6.5, 0.475), (6.86, -0.37), (7.12, 0.0), (7.47, 0.44), (7.92, -0.44), (8.36, 0.44), (8.75, -0.37),
         (9.06, 0.12), (9.38, 0.02), (9.59, 0.085), (9.95, -0.1), (10.48, -0.34), (10.83, 0.46), (11.1, -0.03),
         (11.45, 0.05), (11.71, 0.29), (12.03, -0.24), (12.33, 0.27), (12.51, -0.07), (12.95, 0.37),
         (13.52, -0.66), (13.97, 1.19), (14.31, -0.66), (14.68, -0.03), (15.07, 0.44), (15.6, -0.53),
         (15.92, 0.29), (16.17, 0.034), (16.4, -0.24), (16.66, 0.17), (17.1, 0.32), (17.51, -0.34), (17.9, 0.56),
         (18.25, -0.54), (18.6, 0.135), (18.87, -0.02), (19.14, 0.034), (19.49, -0.3), (20.02, 0.51),
         (20.28, -0.54), (20.64, 0.72), (20.99, -0.54), (21.34, 0.085), (21.61, 0.44), (22.05, -0.51),
         (22.58, 0.56), (22.8, 0.034), (22.98, -0.24), (23.25, -1.03), (23.6, 1.08), (24.01, -0.85),
         (24.37, 0.41), (24.73, -0.19), (25.09, 0.25), (25.44, 0.0), (25.69, 0.034), (26.01, 0.34),
         (26.55, -0.36), (26.91, 0.51), (27.19, -0.68), (27.48, 0.34), (27.76, 0.39), (28.25, -0.75),
         (28.57, 1.17), (28.96, -0.41), (29.32, -0.27), (29.69, 1.02), (30.03, -0.59), (30.26, -0.3),
         (30.57, 0.63), (31.05, -0.59), (31.37, 0.19), (31.73, 0.37), (32.05, -0.46), (32.44, 0.56),
         (32.89, 0.034), (33.25, -0.07), (33.6, 0.135), (34.05, 0.017), (34.41, 0.12), (34.73, -0.14),
         (35.03, -0.05), (35.3, 0.39), (35.96, -0.61), (36.43, 0.64), (36.82, -1.31), (37.18, 0.92),
         (37.59, -0.37), (37.94, -0.1), (38.34, 0.66), (38.69, -0.85), (39.23, 1.08), (39.8, -1.02),
         (40.21, 0.61), (40.66, -0.47), (41.01, 0.17), (41.46, 0.75), (41.82, -1.41), (42.12, 0.85),
         (42.44, -0.14), (42.89, 0.1), (43.16, -0.2), (43.51, 0.07), (43.87, 0.66), (44.23, -0.54),
         (44.73, 0.44), (45.12, -0.37), (45.48, 0.2), (45.92, 0.0), (46.28, -0.34), (46.64, -0.47),
         (46.99, 0.39), (47.26, -0.24), (47.53, 0.36), (47.98, 0.017), (48.34, 0.034), (48.69, -0.93),
         (49.05, 0.83), (49.44, -0.58), (49.77, -0.3), (50, 0.98)]
G_188 = [(0, -0.02), (0.23, 0.034), (0.41, -0.034), (0.64, 0.017), (0.88, 0.0), (1.2, -0.017), (1.55, -0.15),
         (1.91, 0.32), (2.17, -0.034), (2.49, -0.24), (2.88, 0.1), (3.23, -0.017), (3.5, -0.07), (3.73, -0.21),
         (4.12, 0.475), (4.43, -0.3), (4.79, 0.19), (5.12, -0.29), (5.35, 0.19), (5.62, -0.05), (6.06, 0.1),
         (6.41, -0.05), (6.73, -0.17), (7.21, -0.37), (7.69, 0.54), (8.13, -0.29), (8.71, 0.24), (9.12, -0.46),
         (9.51, 0.1), (9.77, 0.3), (10.04, -0.034), (10.39, -0.27), (10.65, 0.1), (10.97, -0.034), (11.36, 0.32),
         (11.66, -0.56), (12.07, 0.32), (12.6, -0.71), (12.9, 0.52), (13.22, -0.2), (13.48, -0.034),
         (13.98, 0.3), (14.36, -0.25), (14.72, -0.07), (15.21, 0.39), (15.6, -0.36), (15.95, -0.034),
         (16.31, 0.56), (16.75, -0.63), (17.19, 0.32), (17.58, -0.61), (17.9, 0.44), (18.25, -0.1),
         (18.69, -0.1), (19.05, 0.25), (19.49, 0.034), (19.75, 0.24), (20.15, -0.17), (20.55, 0.17),
         (20.81, 0.22), (21.17, -0.085), (21.61, -0.8), (21.96, 1.02), (22.31, -0.37), (22.67, -0.41),
         (22.8, 0.2), (22.98, 0.63), (23.34, -0.63), (23.6, 0.2), (23.91, 0.07), (24.23, -0.1), (24.59, 0.17),
         (24.86, 0.186), (25.21, -0.66), (25.57, 0.36), (25.84, 0.305), (26.16, -0.2), (26.46, 0.034),
         (26.64, -0.12), (26.91, 0.37), (27.41, -0.24), (27.76, 0.135), (28.07, -0.07), (28.25, 0.3),
         (28.57, -0.54), (28.87, 0.44), (29.19, -0.3), (29.68, -0.05), (29.94, 0.37), (30.21, 0.34),
         (30.51, -0.51), (30.84, -0.034), (31.19, -0.1), (31.55, 0.46), (31.91, -0.76), (32.3, 0.58),
         (32.68, -0.71), (32.98, 0.37), (33.34, -0.2), (33.6, 0.37), (33.96, -0.54), (34.32, 0.17), (34.67, 0.0),
         (35.12, 0.17), (35.51, 0.2), (35.84, -0.1), (36.37, 0.24), (36.91, -0.24), (37.3, 0.32), (37.62, -0.54),
         (37.89, 0.39), (38.19, -0.14), (38.55, -0.27), (38.96, 0.37), (39.32, -0.2), (39.68, 0.034),
         (39.98, 0.07), (40.21, 0.44), (40.62, -0.85), (41.01, 0.63), (41.5, -0.83), (41.87, 0.75),
         (42.26, -0.61), (42.62, 0.42), (42.98, -0.71), (43.25, 0.22), (43.51, -0.24), (43.87, 0.034),
         (44.14, 0.12), (44.5, -0.24), (44.68, 0.2), (44.91, -0.37), (45.26, 0.56), (45.62, -0.61), (46.01, 0.66),
         (46.41, -0.51), (46.82, 0.135), (47.12, -0.25), (47.44, 0.085), (47.8, 0.15), (48.07, -0.2),
         (48.37, 0.58), (48.78, -0.25), (49.01, -0.41), (49.32, 0.83), (49.67, -0.46), (50, 0.3)]


def df_of(pairs):
    return pd.DataFrame({"t": [p[0] for p in pairs], "v": [p[1] for p in pairs]})


ONE = pd.DataFrame({"k": [0]})


def txt(s, x, y, size, style="normal", baseline="alphabetic", align="left"):
    return alt.Chart(ONE).mark_text(text=s, font=FONT, fontSize=size, fontStyle=style,
                                    baseline=baseline, align=align, color="black").encode(
        x=alt.value(x), y=alt.value(y))


def seg(x1, x2, y, color, width):
    return alt.Chart(ONE).mark_rule(color=color, strokeWidth=width).encode(
        x=alt.value(x1), x2=alt.value(x2), y=alt.value(y))


def spacer(w):
    return alt.Chart(ONE).mark_point(size=1, opacity=0).properties(
        width=w, height=1, view=alt.ViewBackground(strokeOpacity=0, strokeWidth=0))


# ---------------- spectrum panels ----------------
SW, SH = 275, 231


def spec_panel(model, meas, tp, tag, tag_x, first, middle, lx1, lx2, tx):
    xax = alt.Axis(values=FREQ_TICKS, format=".1f", ticks=False, domain=False, grid=False,
                   labelFontSize=LABEL_SIZE, labelPadding=11, labelFont=FONT, labelColor="black",
                   title=("Frequency /(rad/s)" if middle else None), titleFontSize=22, titleFont=FONT,
                   titleFontWeight="normal", titlePadding=2, titleColor="black")
    yax = alt.Axis(values=SPEC_TICKS, format=".2f", ticks=False, domain=False, grid=False,
                   labels=first, labelFontSize=LABEL_SIZE, labelPadding=13, labelFont=FONT, labelColor="black",
                   title=("Spectral density /(m²·s)" if first else None), titleFontSize=TITLE_SIZE,
                   titleFont=FONT, titleFontWeight="normal", titleColor="black", titleAngle=270,
                   titleX=-66, titleY=SH / 2, titleAlign="center", titleBaseline="middle")
    xe = alt.X("t:Q", scale=alt.Scale(domain=[0, 2.5], nice=False, zero=False), axis=xax)
    ye = alt.Y("v:Q", scale=alt.Scale(domain=[0, 0.1], nice=False, zero=False), axis=yax)
    l_model = alt.Chart(df_of(model)).mark_line(color=C_BLACK, strokeWidth=1.6, clip=True).encode(x=xe, y=ye)
    l_meas = alt.Chart(df_of(meas)).mark_line(color=C_RED, strokeWidth=1.6, clip=True).encode(x=xe, y=ye)
    xt1 = alt.Chart(pd.DataFrame({"t": FREQ_TICKS})).mark_rule(color="black", strokeWidth=2).encode(
        x=xe, y=alt.value(SH), y2=alt.value(SH - 12))
    xt2 = alt.Chart(pd.DataFrame({"t": FREQ_MINOR})).mark_rule(color="black", strokeWidth=2).encode(
        x=xe, y=alt.value(SH), y2=alt.value(SH - 6))
    yt1 = alt.Chart(pd.DataFrame({"v": SPEC_TICKS})).mark_rule(color="black", strokeWidth=2).encode(
        y=ye, x=alt.value(0), x2=alt.value(10))
    yt2 = alt.Chart(pd.DataFrame({"v": SPEC_MINOR})).mark_rule(color="black", strokeWidth=2).encode(
        y=ye, x=alt.value(0), x2=alt.value(6))
    leg = [seg(lx1, lx2, 18, C_BLACK, 1.6), seg(lx1, lx2, 49, C_RED, 1.6),
           txt("T", tx, 25, 21, "italic"), txt("p", tx + 9, 30, 15, "italic"),
           txt(tp, tx + 15, 25, 21), txt("Measured", tx, 57, 21),
           txt(tag, tag_x, -27, 20, baseline="top")]
    return alt.layer(l_model, l_meas, xt1, xt2, yt1, yt2, *leg).properties(
        width=SW, height=SH, view=alt.ViewBackground(stroke="black", strokeWidth=2))


pa = spec_panel(A_MODEL, A_MEAS, "=1.5s", "(a)", -104, True, False, 131, 181, 186)
pb = spec_panel(B_MODEL, B_MEAS, "=1.69s", "(b)", -30, False, True, 130, 178, 185)
pc = spec_panel(C_MODEL, C_MEAS, "=1.88s", "(c)", -29, False, False, 127, 176, 179)

# ---------------- time panels ----------------
TW = 1011


def time_panel(series, H, ydom, yvals, yminor, ygrid, yfmt, ytitle, titlex, tag, interp,
               label_expr=None, xtitle=None, legend=False):
    xax = alt.Axis(values=T_TICKS, format="d", ticks=False, domain=False, grid=False,
                   labelFontSize=LABEL_SIZE, labelPadding=5, labelFont=FONT, labelColor="black",
                   title=xtitle, titleFontSize=22, titleFont=FONT, titleFontStyle="italic",
                   titleFontWeight="normal", titlePadding=11, titleColor="black")
    yargs = dict(values=yvals, format=yfmt, ticks=False, domain=False, grid=False,
                 labelFontSize=LABEL_SIZE, labelPadding=6, labelFont=FONT, labelColor="black",
                 title=ytitle, titleFontSize=TITLE_SIZE, titleFont=FONT, titleFontWeight="normal",
                 titleColor="black", titleAngle=270, titleX=titlex, titleY=H / 2,
                 titleAlign="center", titleBaseline="middle")
    if label_expr:
        yargs["labelExpr"] = label_expr
    xe = alt.X("t:Q", scale=alt.Scale(domain=[0, 50], nice=False, zero=False), axis=xax)
    ye = alt.Y("v:Q", scale=alt.Scale(domain=ydom, nice=False, zero=False), axis=alt.Axis(**yargs))
    grid = alt.Chart(pd.DataFrame({"v": ygrid})).mark_rule(color="#d6d6d6", strokeWidth=1.2).encode(y=ye)
    layers = [grid]
    for pairs, col in series:
        layers.append(alt.Chart(df_of(pairs)).mark_line(color=col, strokeWidth=1.4, interpolate=interp,
                                                       clip=True).encode(x=xe, y=ye))
    layers.append(alt.Chart(pd.DataFrame({"t": T_TICKS})).mark_rule(color="#333333", strokeWidth=1).encode(
        x=xe, y=alt.value(H), y2=alt.value(H - 5)))
    layers.append(alt.Chart(pd.DataFrame({"t": T_MINOR})).mark_rule(color="#333333", strokeWidth=1).encode(
        x=xe, y=alt.value(H), y2=alt.value(H - 3)))
    layers.append(alt.Chart(pd.DataFrame({"v": yvals})).mark_rule(color="#333333", strokeWidth=1).encode(
        y=ye, x=alt.value(0), x2=alt.value(5)))
    layers.append(alt.Chart(pd.DataFrame({"v": yminor})).mark_rule(color="#333333", strokeWidth=1).encode(
        y=ye, x=alt.value(0), x2=alt.value(3)))
    if legend:
        items = [(540, 591, 598, "= 1.5s", C_BLACK), (685, 737, 744, "= 1.69s", C_RED),
                 (842, 894, 900, "= 1.88s", C_BLUE)]
        for x1, x2, tx, s, col in items:
            layers.append(seg(x1, x2, 13, col, 1.4))
            layers.append(txt("T", tx, 20, 21, "italic"))
            layers.append(txt("p", tx + 11, 25, 15, "italic"))
            layers.append(txt(s, tx + 24, 20, 21))
    layers.append(txt(tag, -90, -28, 20, baseline="top"))
    return alt.layer(*layers).properties(width=TW, height=H,
                                         view=alt.ViewBackground(stroke="#333333", strokeWidth=1.3))


p_d = time_panel([(D_15, C_BLACK), (D_169, C_RED), (D_188, C_BLUE)], 305, [-15, 15], VEL_TICKS, VEL_MINOR,
                 VEL_GRID, "d", "Velocity /(m/s)", -52, "(d)", "monotone", legend=True)
p_e = time_panel([(E_15, C_BLACK), (E_169, C_RED), (E_188, C_BLUE)], 306, [0, 160], ANG_TICKS, ANG_MINOR,
                 ANG_GRID, "d", "Angular velocity /(rad/s)", -52, "(e)", "linear")
p_f = time_panel([(F_15, C_BLACK), (F_169, C_RED), (F_188, C_BLUE)], 305, [-0.4, 1.5], TOR_TICKS, TOR_MINOR,
                 TOR_GRID, ".1f", "Torque /(J)", -46, "(f)", "linear")
p_g = time_panel([(G_15, C_BLACK), (G_169, C_RED), (G_188, C_BLUE)], 306, [-1.5, 1.6], PRE_TICKS, PRE_MINOR,
                 PRE_GRID, ".1f", "Pressure drop /(Pa)", -46, "(g)", "monotone",
                 label_expr="datum.value == 1.5 ? '1.5×10³' : format(datum.value, '.1f')", xtitle="t*")

row1 = alt.hconcat(spacer(19), pa, pb, pc, spacing=86, bounds="flush")
block = alt.hconcat(spacer(4), alt.vconcat(p_d, p_e, p_f, p_g, spacing=30, bounds="flush"),
                    spacing=86, bounds="flush")

chart = alt.vconcat(row1, block, spacing=24).properties(
    padding={"left": 1, "top": 0, "right": 0, "bottom": 0}
).configure(background="white")

chart.save("out.html", embed_options={"renderer": "svg", "actions": False})
